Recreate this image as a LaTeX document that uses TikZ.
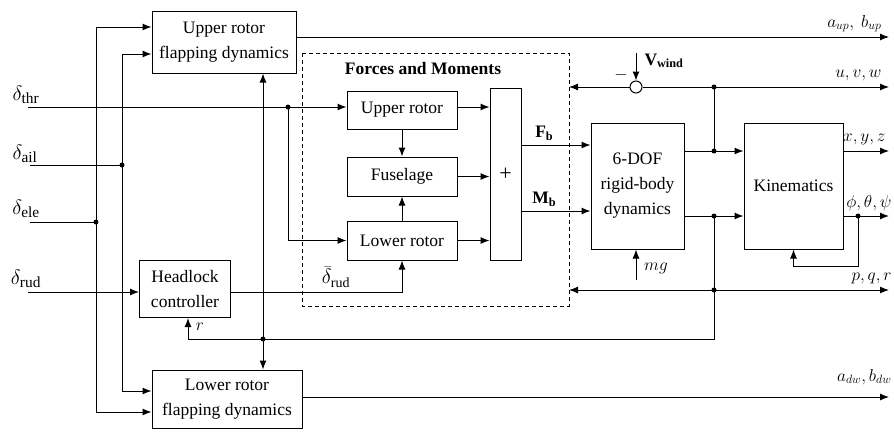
\documentclass[tikz,border=0pt]{standalone}
\usepackage{fontspec}
\setmainfont{Liberation Serif}
\usetikzlibrary{arrows.meta}

\begin{document}
\begin{tikzpicture}[x=1pt, y=-1pt, line width=1pt,
    >={Latex[length=9pt,width=7pt]},
    every node/.style={font=\fontsize{17.5}{25}\selectfont},
    block/.style={rectangle, draw, align=center, inner sep=0pt},
    dot/.style={circle, fill, inner sep=0pt, minimum size=5pt},
    inp/.style={font=\fontsize{22}{26}\selectfont},
    lbl/.style={inner sep=0pt, anchor=base east}]
    \useasboundingbox (0,0) rectangle (894,432);

    % blocks
    \node[block, minimum width=144, minimum height=62] (upflap) at (224,42) {Upper rotor\\flapping dynamics};
    \node[block, minimum width=150, minimum height=58] (loflap) at (227,399) {Lower rotor\\flapping dynamics};
    \node[block, minimum width=91, minimum height=57] (headlock) at (185,289) {Headlock\\controller};
    \coordinate (fmnw) at (302,53);
    \coordinate (fmse) at (569,306);
    \draw[dash pattern=on 4pt off 3pt] (fmnw) rectangle (fmse);
    \node[font=\fontsize{17.5}{25}\selectfont\bfseries] (fmtitle) at (423,69) {Forces and Moments};
    \node[block, minimum width=110, minimum height=38] (upper) at (402,110) {Upper rotor};
    \node[block, minimum width=110, minimum height=39] (fuselage) at (402,176.5) {Fuselage};
    \node[block, minimum width=110, minimum height=39] (lower) at (402,240.5) {Lower rotor};
    \node[block, minimum width=31, minimum height=172, font=\fontsize{22}{26}\selectfont] (plus) at (505.5,174) {+};
    \node[block, minimum width=93, minimum height=126] (dof) at (637.5,186) {6-DOF\\rigid-body\\dynamics};
    \node[block, minimum width=99, minimum height=126] (kin) at (793.5,186) {Kinematics};
    \node[circle, draw, inner sep=0pt, minimum size=12pt] (sum) at (636,87) {};

    % inputs, junctions and outputs
    \coordinate (thr) at (28,107);
    \coordinate (ail) at (30,165);
    \coordinate (ele) at (30,222);
    \coordinate (rud) at (28,292);
    \coordinate (vw) at (636,53);
    \coordinate (mg) at (636,280);
    \coordinate (jthr) at (288,107);
    \coordinate (jail) at (122,165);
    \coordinate (jele) at (96,222);
    \coordinate (jr) at (263,339);
    \coordinate (juvw) at (714,87);
    \coordinate (jx) at (714,151);
    \coordinate (jphi) at (714,216);
    \coordinate (jpqr) at (714,290);
    \coordinate (jk) at (858,216);
    \coordinate (oup) at (889,37);
    \coordinate (ouvw) at (889,87);
    \coordinate (oxyz) at (889,151);
    \coordinate (ophi) at (889,216);
    \coordinate (opqr) at (889,290);
    \coordinate (odw) at (889,397);

    % control inputs
    \draw (thr) -- (jthr);
    \draw[->] (jthr) -- (jthr -| upper.west);
    \draw[->] (jthr) |- (lower.west);
    \draw (ail) -- (jail);
    \draw[->] (jail) |- (upflap.west |- 0,54);
    \draw[->] (jail) |- (loflap.west |- 0,391);
    \draw (ele) -- (jele);
    \draw[->] (jele) |- (upflap.west |- 0,27);
    \draw[->] (jele) |- (loflap.west |- 0,412);
    \draw[->] (rud) -- (rud -| headlock.west);
    \draw[->] (rud -| headlock.east) -| (lower.south);

    % forces and moments
    \draw[->] (upper) -- (fuselage);
    \draw[->] (lower) -- (fuselage);
    \draw[->] (thr -| upper.east) -- (thr -| plus.west);
    \draw[->] (fuselage.east) -- (fuselage.east -| plus.west);
    \draw[->] (lower.east) -- (lower.east -| plus.west);
    \draw[->] (plus.east |- 0,145) -- (dof.west |- 0,145) node[pos=0.33, above=1pt] {\textbf{F\textsubscript{b}}};
    \draw[->] (plus.east |- 0,211) -- (dof.west |- 0,211) node[pos=0.33, above=1pt] {\textbf{M\textsubscript{b}}};

    % rigid body and kinematics
    \draw (jx -| dof.east) -- (jx);
    \draw[->] (jx) -- (jx -| kin.west);
    \draw (jphi -| dof.east) -- (jphi);
    \draw[->] (jphi) -- (jphi -| kin.west);
    \draw (jx) -- (juvw);
    \draw[->] (juvw) -- (ouvw);
    \draw (juvw) -- (sum);
    \draw[->] (sum) -- (sum -| fmse);
    \draw[->] (vw) -- (sum);
    \draw[->] (mg) -- (mg |- dof.south);
    \draw[->] (jx -| kin.east) -- (oxyz);
    \draw (jk -| kin.east) -- (jk);
    \draw[->] (jk) -- (ophi);
    \draw[->] (jk) |- (kin.south |- 0,266) -- (kin.south);
    \draw (jphi) -- (jpqr);
    \draw[->] (jpqr) -- (opqr);
    \draw[->] (jpqr) -- (jpqr -| fmse);
    \draw (jpqr) |- (jr);
    \draw[->] (jr) -| ([xshift=3pt]headlock.south);
    \draw[->] (jr) -- (jr |- upflap.south);
    \draw[->] (jr) -- (jr |- loflap.north);
    \draw[->] (oup -| upflap.east) -- (oup);
    \draw[->] (odw -| loflap.east) -- (odw);

    \foreach \j in {jthr, jail, jele, jr, juvw, jx, jphi, jpqr, jk}
        \node[dot] at (\j) {};

    % labels
    \node[inp] at (26,95) {$\delta_{\mathrm{thr}}$};
    \node[inp] at (25,154) {$\delta_{\mathrm{ail}}$};
    \node[inp] at (26,209) {$\delta_{\mathrm{ele}}$};
    \node[inp] at (26,279) {$\delta_{\mathrm{rud}}$};
    \node[font=\fontsize{20}{24}\selectfont, inner sep=1pt] at (336,277) {$\bar{\delta}_{\mathrm{rud}}$};
    \node at (200,327) {$r$};
    \node at (621,75) {$-$};
    \node at (664,61) {\textbf{V\textsubscript{wind}}};
    \node at (656,268) {$mg$};
    \node[lbl] at (882,27) {$a_{up},\ b_{up}$};
    \node[lbl] at (882,77) {$u,v,w$};
    \node[lbl] at (886,141) {$x,y,z$};
    \node[lbl] at (892,207) {$\phi,\theta,\psi$};
    \node[lbl] at (892,280) {$p,q,r$};
    \node[lbl] at (892,381) {$a_{dw},b_{dw}$};
\end{tikzpicture}
\end{document}
